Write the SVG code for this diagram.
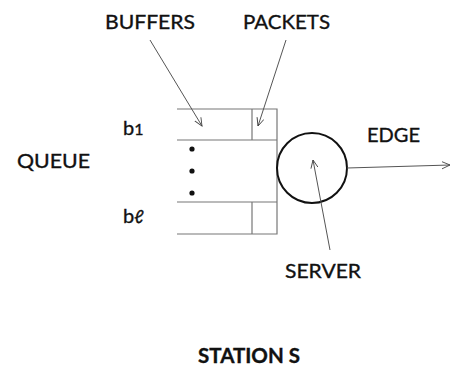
<svg xmlns="http://www.w3.org/2000/svg" width="452" height="367" viewBox="0 0 452 367">
<style>
text{font-family:Lato,"Open Sans","Liberation Sans",sans-serif;font-size:20px;fill:#111;stroke:#111;stroke-width:0.35}
.ln{stroke:#555;stroke-width:1;fill:none}
.bx{stroke:#777;stroke-width:1.2;fill:none}
</style>
<defs>
<marker id="ah" viewBox="0 0 10 10" refX="9" refY="5" markerWidth="9" markerHeight="9" orient="auto" markerUnits="userSpaceOnUse">
<path d="M0,1 L9,5 L0,9" fill="none" stroke="#444" stroke-width="1"/>
</marker>
</defs>
<rect width="452" height="367" fill="#fff"/>
<g id="labels">
<text x="105" y="29" textLength="90" lengthAdjust="spacingAndGlyphs">BUFFERS</text>
<text x="243" y="29" textLength="87" lengthAdjust="spacingAndGlyphs">PACKETS</text>
<text x="17" y="168" textLength="73" lengthAdjust="spacingAndGlyphs">QUEUE</text>
<text x="123" y="135">b<tspan font-size="16">1</tspan></text>
<text x="123" y="223">b<tspan font-style="italic" font-size="18">ℓ</tspan></text>
<text x="367" y="142" textLength="53" lengthAdjust="spacingAndGlyphs">EDGE</text>
<text x="285" y="278" textLength="76" lengthAdjust="spacingAndGlyphs">SERVER</text>
<text x="198" y="363" font-weight="bold" textLength="102" lengthAdjust="spacingAndGlyphs">STATION S</text>
</g>
<g id="queue">
<path class="bx" d="M177,109 H277 V234 H177 M177,140 H277 M252,109 V140 M177,202 H277 M252,202 V234"/>
<circle cx="192" cy="149" r="2.6" fill="#111"/>
<circle cx="192" cy="171" r="2.6" fill="#111"/>
<circle cx="192" cy="193" r="2.6" fill="#111"/>
</g>
<g id="server">
<circle cx="312" cy="168" r="35" fill="none" stroke="#111" stroke-width="2"/>
</g>
<g id="connectors">
<line class="ln" x1="150" y1="40" x2="202" y2="126" marker-end="url(#ah)"/>
<line class="ln" x1="286" y1="40" x2="258" y2="126" marker-end="url(#ah)"/>
<line class="ln" x1="330" y1="250" x2="313" y2="160" marker-end="url(#ah)"/>
<line class="ln" x1="347" y1="168" x2="450" y2="165" marker-end="url(#ah)"/>
</g>
</svg>
